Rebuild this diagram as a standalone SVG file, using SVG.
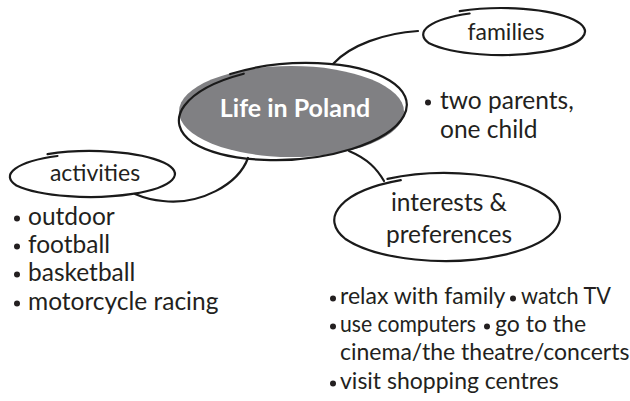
<svg xmlns="http://www.w3.org/2000/svg" width="630" height="401" viewBox="0 0 630 401">
  <style>
    .outline { fill: none; stroke: #1a1a1a; stroke-width: 2.2; stroke-linecap: round; }
    .link { fill: none; stroke: #1a1a1a; stroke-width: 2.2; stroke-linecap: round; }
    .label { font-family: Lato, "Open Sans", sans-serif; font-size: 23px; fill: #231f20; }
    .label2 { font-family: Lato, "Open Sans", sans-serif; font-size: 24.5px; fill: #231f20; }
    .item { font-family: Lato, "Open Sans", sans-serif; font-size: 24.5px; fill: #231f20; }
    .item2 { font-family: Lato, "Open Sans", sans-serif; font-size: 23px; fill: #231f20; }
    .title { font-family: Lato, "Open Sans", sans-serif; font-size: 25px; font-weight: bold; fill: #ffffff; }
    .dot { fill: #231f20; }
  </style>

  <rect width="630" height="401" fill="#ffffff"/>

  <!-- connectors -->
  <g id="connectors">
    <path class="link" d="M333,64 C350,45 385,33 418,31"/>
    <path class="link" d="M248,158 C238,185 200,205 163,201 C150,200 142,197 135,194"/>
    <path class="link" d="M349,151 C368,159 377,169 384,181"/>
  </g>

  <!-- central topic -->
  <g id="life-in-poland">
    <ellipse cx="291.5" cy="111.5" rx="112.5" ry="45.5" fill="#808083"/>
    <g transform="translate(291,111.5) rotate(-4)">
      <path class="outline" d="M-58,-41.6 A116,48 0 0,1 100.5,-24 A116,48 0 0,1 58,41.6 A116,48 0 0,1 -100.5,24 A116,48 0 0,1 -44.5,-41"/>
    </g>
    <text class="title" x="295" y="117" text-anchor="middle">Life in Poland</text>
  </g>

  <!-- families -->
  <g id="families">
    <path class="outline" d="M459.8,11.2 A83.5,23.5 0 0,1 573.8,19.8 A83.5,23.5 0 0,1 543.3,51.9 A83.5,23.5 0 0,1 429.2,43.3 A83.5,23.5 0 0,1 469.6,13.5"/>
    <text class="label" x="506" y="40" text-anchor="middle">families</text>
    <circle class="dot" cx="428" cy="102.5" r="3"/>
    <text class="item" x="440" y="109">two parents,</text>
    <text class="item" x="440" y="138">one child</text>
  </g>

  <!-- activities -->
  <g id="activities">
    <path class="outline" d="M47.5,154.1 A85,23 0 0,1 163.6,162.5 A85,23 0 0,1 132.5,193.9 A85,23 0 0,1 16.4,185.5 A85,23 0 0,1 57.5,156"/>
    <text class="label" x="95" y="181" text-anchor="middle">activities</text>
    <circle class="dot" cx="17" cy="218.5" r="3"/>
    <text class="item" x="28" y="225">outdoor</text>
    <circle class="dot" cx="17" cy="246.5" r="3"/>
    <text class="item" x="28" y="253">football</text>
    <circle class="dot" cx="17" cy="274.5" r="3"/>
    <text class="item" x="28" y="281">basketball</text>
    <circle class="dot" cx="17" cy="303.5" r="3"/>
    <text class="item" x="28" y="310">motorcycle racing</text>
  </g>

  <!-- interests & preferences -->
  <g id="interests">
    <path class="outline" d="M387.5,178.9 A115,44 0 0,1 544.6,195 A115,44 0 0,1 502.5,255.1 A115,44 0 0,1 345.4,239 A115,44 0 0,1 400.8,180.2"/>
    <text class="label2" x="449" y="211" text-anchor="middle">interests &amp;</text>
    <text class="label2" x="449" y="243" text-anchor="middle">preferences</text>
    <circle class="dot" cx="333" cy="298.5" r="3"/>
    <text class="item2" x="340" y="304">relax with family</text>
    <circle class="dot" cx="513" cy="298.5" r="3"/>
    <text class="item2" x="521" y="304" textLength="90" lengthAdjust="spacingAndGlyphs">watch TV</text>
    <circle class="dot" cx="333" cy="326.5" r="3"/>
    <text class="item2" x="340" y="332" textLength="136" lengthAdjust="spacingAndGlyphs">use computers</text>
    <circle class="dot" cx="487" cy="326.5" r="3"/>
    <text class="item2" x="495" y="332">go to the</text>
    <text class="item2" x="340" y="360">cinema/the theatre/concerts</text>
    <circle class="dot" cx="333" cy="383.5" r="3"/>
    <text class="item2" x="340" y="389">visit shopping centres</text>
  </g>
</svg>
